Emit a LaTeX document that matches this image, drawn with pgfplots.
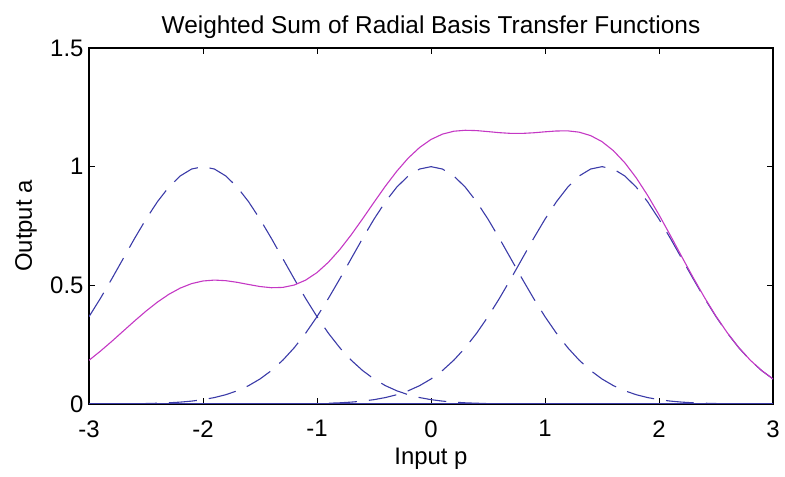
\documentclass[border=0pt]{standalone}
\usepackage{fontspec}
\setmainfont{Liberation Sans}
\usepackage{pgfplots}
\usepackage{pgfplotstable}
\pgfplotsset{compat=1.18}
\definecolor{rbblue}{HTML}{3B3BA8}
\definecolor{rbmag}{HTML}{C438C4}

% p, radbas(p+2), radbas(p), radbas(p-1.5), weighted sum
\pgfplotstableread{
p A B C S
-3.0 0.3679 0.0001 0.0000 0.1840
-2.9 0.4449 0.0002 0.0000 0.2227
-2.8 0.5273 0.0004 0.0000 0.2640
-2.7 0.6126 0.0007 0.0000 0.3070
-2.6 0.6977 0.0012 0.0000 0.3500
-2.5 0.7788 0.0019 0.0000 0.3913
-2.4 0.8521 0.0032 0.0000 0.4292
-2.3 0.9139 0.0050 0.0000 0.4620
-2.2 0.9608 0.0079 0.0000 0.4883
-2.1 0.9900 0.0122 0.0000 0.5072
-2.0 1.0000 0.0183 0.0000 0.5183
-1.9 0.9900 0.0271 0.0000 0.5221
-1.8 0.9608 0.0392 0.0000 0.5196
-1.7 0.9139 0.0556 0.0000 0.5126
-1.6 0.8521 0.0773 0.0001 0.5035
-1.5 0.7788 0.1054 0.0001 0.4949
-1.4 0.6977 0.1409 0.0002 0.4899
-1.3 0.6126 0.1845 0.0004 0.4912
-1.2 0.5273 0.2369 0.0007 0.5012
-1.1 0.4449 0.2982 0.0012 0.5218
-1.0 0.3679 0.3679 0.0019 0.5537
-0.9 0.2982 0.4449 0.0032 0.5972
-0.8 0.2369 0.5273 0.0050 0.6508
-0.7 0.1845 0.6126 0.0079 0.7128
-0.6 0.1409 0.6977 0.0122 0.7803
-0.5 0.1054 0.7788 0.0183 0.8498
-0.4 0.0773 0.8521 0.0271 0.9179
-0.3 0.0556 0.9139 0.0392 0.9809
-0.2 0.0392 0.9608 0.0556 1.0360
-0.1 0.0271 0.9900 0.0773 1.0808
0.0 0.0183 1.0000 0.1054 1.1146
0.1 0.0122 0.9900 0.1409 1.1370
0.2 0.0079 0.9608 0.1845 1.1493
0.3 0.0050 0.9139 0.2369 1.1533
0.4 0.0032 0.8521 0.2982 1.1519
0.5 0.0019 0.7788 0.3679 1.1477
0.6 0.0012 0.6977 0.4449 1.1432
0.7 0.0007 0.6126 0.5273 1.1402
0.8 0.0004 0.5273 0.6126 1.1401
0.9 0.0002 0.4449 0.6977 1.1427
1.0 0.0001 0.3679 0.7788 1.1468
1.1 0.0000 0.2982 0.8521 1.1503
1.2 0.0000 0.2369 0.9139 1.1508
1.3 0.0000 0.1845 0.9608 1.1453
1.4 0.0000 0.1409 0.9900 1.1309
1.5 0.0000 0.1054 1.0000 1.1054
1.6 0.0000 0.0773 0.9900 1.0673
1.7 0.0000 0.0556 0.9608 1.0164
1.8 0.0000 0.0392 0.9139 0.9531
1.9 0.0000 0.0271 0.8521 0.8792
2.0 0.0000 0.0183 0.7788 0.7971
2.1 0.0000 0.0122 0.6977 0.7099
2.2 0.0000 0.0079 0.6126 0.6205
2.3 0.0000 0.0050 0.5273 0.5323
2.4 0.0000 0.0032 0.4449 0.4481
2.5 0.0000 0.0019 0.3679 0.3698
2.6 0.0000 0.0012 0.2982 0.2994
2.7 0.0000 0.0007 0.2369 0.2376
2.8 0.0000 0.0004 0.1845 0.1849
2.9 0.0000 0.0002 0.1409 0.1411
3.0 0.0000 0.0001 0.1054 0.1055
}\rbdata

\begin{document}
\begin{tikzpicture}[x=1bp,y=1bp]
\path[use as bounding box] (0,0) rectangle (785,477);
\begin{axis}[
  at={(89bp,73bp)}, anchor=south west,
  width=684bp, height=356bp, scale only axis,
  xmin=-3, xmax=3, ymin=0, ymax=1.5,
  xtick={-3,-2,...,3}, ytick={0,0.5,1,1.5},
  tick align=inside, major tick length=6bp,
  tick style={black, line width=1bp},
  axis line style={black, line width=1.2bp},
  font=\fontsize{24}{28}\selectfont,
  /pgf/number format/assume math mode=true,
  xticklabel style={yshift=-13bp},
  yticklabel style={xshift=-2bp},
  title={Weighted Sum of Radial Basis Transfer Functions},
  title style={font=\fontsize{24.5}{28}\selectfont, yshift=0bp},
  xlabel={Input p}, ylabel={Output a},
  xlabel style={at={(axis description cs:0.5,0)}, anchor=center, yshift=-55bp},
  ylabel style={at={(axis description cs:0,0.5)}, anchor=center, rotate=0, xshift=0bp, yshift=63bp},
  clip=true,
]
\addplot[rbblue, line width=1bp] coordinates {(-3,0) (3,0)};
\addplot[rbblue, line width=1.1bp, dash pattern=on 28bp off 12bp] table[x=p,y=A] {\rbdata};
\addplot[rbblue, line width=1.1bp, dash pattern=on 28bp off 12bp] table[x=p,y=B] {\rbdata};
\addplot[rbblue, line width=1.1bp, dash pattern=on 28bp off 12bp] table[x=p,y=C] {\rbdata};
\addplot[rbmag, line width=1.1bp] table[x=p,y=S] {\rbdata};
\end{axis}
\end{tikzpicture}
\end{document}
